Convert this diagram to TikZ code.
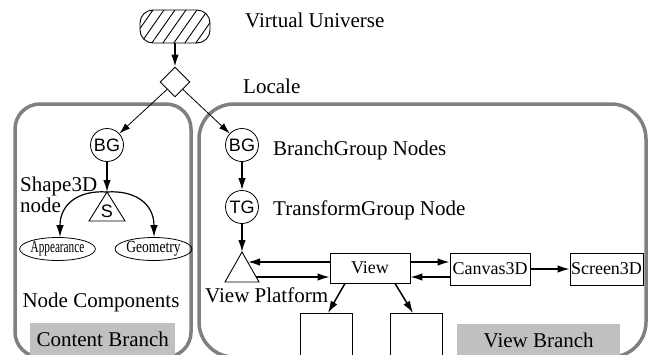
\documentclass[tikz,border=0pt]{standalone}
\usepackage{fontspec}
\usepackage{graphicx}
\setmainfont{Liberation Serif}
\newfontfamily\timesfont{Liberation Serif}
\newfontfamily\arialfont{Liberation Sans}
\usetikzlibrary{arrows.meta,shapes.geometric,patterns.meta}
\definecolor{framegray}{RGB}{128,128,128}
\definecolor{taggray}{RGB}{192,192,192}
\newcommand\lblfont{\timesfont\fontsize{21}{24}\selectfont}
\begin{document}
\begin{tikzpicture}[x=1pt,y=1pt,
  plainlabel/.style={font=\lblfont, inner sep=0pt, text=black},
  frame/.style={draw=framegray, line width=3.5pt},
  tag/.style={fill=taggray, inner sep=0pt, font=\lblfont},
  arr/.style={line width=1.5pt, -{Latex[length=12pt,width=7.5pt]}},
  thinarr/.style={line width=0.8pt, -{Latex[length=11pt,width=7pt]}},
  curvarr/.style={line width=1.2pt, -{Latex[length=12pt,width=7.5pt]}},
  circ/.style={draw, circle, line width=0.8pt, minimum size=33pt, inner sep=0pt, font=\arialfont\fontsize{18}{18}\selectfont},
  boxn/.style={draw, line width=0.8pt, inner sep=1pt, minimum height=30pt, font=\timesfont\fontsize{18}{20}\selectfont},
  ell/.style={draw, ellipse, line width=0.8pt, inner sep=0pt, minimum height=23pt, font=\timesfont\fontsize{17}{17}\selectfont},
  tri/.style={draw, line width=0.9pt, line join=miter}
]
\useasboundingbox (0,0) rectangle (648,-354);
\clip (0,0) rectangle (648,-354);
\fill[white] (0,0) rectangle (648,-354);

% branch frames
\draw[frame, rounded corners=25pt] (15,-104) rectangle (191,-357);
\draw[frame, rounded corners=35pt] (199,-104) rectangle (646,-357);

% grey tags
\node[tag, minimum width=145pt, minimum height=32pt, anchor=north west] (cbt) at (30,-323) {Content Branch};
\node[tag, minimum width=163pt, minimum height=32pt, anchor=north west] (vbt) at (457,-324) {View Branch};

% virtual universe and locale
\node[draw, line width=0.9pt, rounded corners=13pt, minimum width=70pt, minimum height=33pt,
      pattern={Lines[angle=55,distance=9pt,line width=0.9pt]}] (VU) at (175,-26.5) {};
\node[draw, diamond, line width=0.9pt, minimum width=30pt, minimum height=30pt, inner sep=0pt] (loc) at (175,-82) {};
\node[plainlabel, anchor=base west] (vut) at (245,-27) {\lblfont Virtual Universe};
\node[plainlabel, anchor=base west] (loct) at (243,-93) {\lblfont Locale};

% content branch
\node[circ] (bgL) at (107,-145) {BG};
\draw[tri] (107,-192) -- (89,-221) -- (125,-221) -- cycle;
\coordinate (Sapex) at (107,-192);
\node[font=\arialfont\fontsize{18}{18}\selectfont, inner sep=0pt] (S) at (107,-211) {S};
\node[ell, minimum width=63pt] (app) at (57.5,-249) {\scalebox{0.66}[1]{Appearance}};
\node[ell, minimum width=59pt] (geo) at (153.5,-249) {\scalebox{0.8}[1]{Geometry}};
\node[plainlabel, anchor=base west] (sh) at (20,-191) {\lblfont Shape3D};
\node[plainlabel, anchor=base west] (nd) at (20,-212) {\lblfont node};
\node[plainlabel, anchor=base] (nc) at (101,-307) {\lblfont Node Components};

% view branch
\node[circ] (bgR) at (242,-145) {BG};
\node[circ] (tg) at (242,-207) {TG};
\node[plainlabel, anchor=base west] (bgt) at (273,-155) {\lblfont BranchGroup Nodes};
\node[plainlabel, anchor=base west] (tgt) at (273,-215) {\lblfont TransformGroup Node};
\draw[tri] (242,-252) -- (225,-282) -- (259,-282) -- cycle;
\coordinate (VPtop) at (242,-252);
\coordinate (VPr1) at (248,-262);
\coordinate (VPr2) at (256,-277);
\node[plainlabel, anchor=base west] (vpt) at (205,-302) {\lblfont View Platform};
\node[boxn, minimum width=80pt] (View) at (370,-268) {View};
\node[boxn, minimum width=80pt, minimum height=32pt] (Canvas) at (490,-269) {Canvas3D};
\node[boxn, minimum width=73pt, minimum height=32pt] (Screen) at (606.5,-269) {Screen3D};
\node[draw, line width=0.8pt, minimum width=52pt, minimum height=60pt, anchor=north] (r1) at (326,-313) {};
\node[draw, line width=0.8pt, minimum width=52pt, minimum height=60pt, anchor=north] (r2) at (416,-313) {};

% connectors
\draw[arr] (VU) -- (loc);
\draw[thinarr] (loc) -- (bgL);
\draw[thinarr] (loc) -- (bgR);
\draw[arr] (bgL) -- (Sapex);
\draw[curvarr] (Sapex) .. controls (80,-190) and (60,-203) .. ([xshift=2.5pt]app.north);
\draw[curvarr] (Sapex) .. controls (134,-190) and (154,-203) .. ([xshift=0.5pt]geo.north);
\draw[arr] (bgR) -- (tg);
\draw[arr] (tg) -- (VPtop);
\draw[arr] ([yshift=6pt]View.west) -- (VPr1);
\draw[arr] (VPr2) -- ([yshift=-9pt]View.west);
\draw[arr] ([yshift=6pt]View.east) -- ([yshift=7pt]Canvas.west);
\draw[arr] ([yshift=-8pt]Canvas.west) -- ([yshift=-9pt]View.east);
\draw[arr] (Canvas) -- (Screen);
\draw[arr] ([xshift=-25pt]View.south) -- ([xshift=2pt]r1.north);
\draw[arr] ([xshift=25pt]View.south) -- ([xshift=-3pt]r2.north);
\end{tikzpicture}
\end{document}
